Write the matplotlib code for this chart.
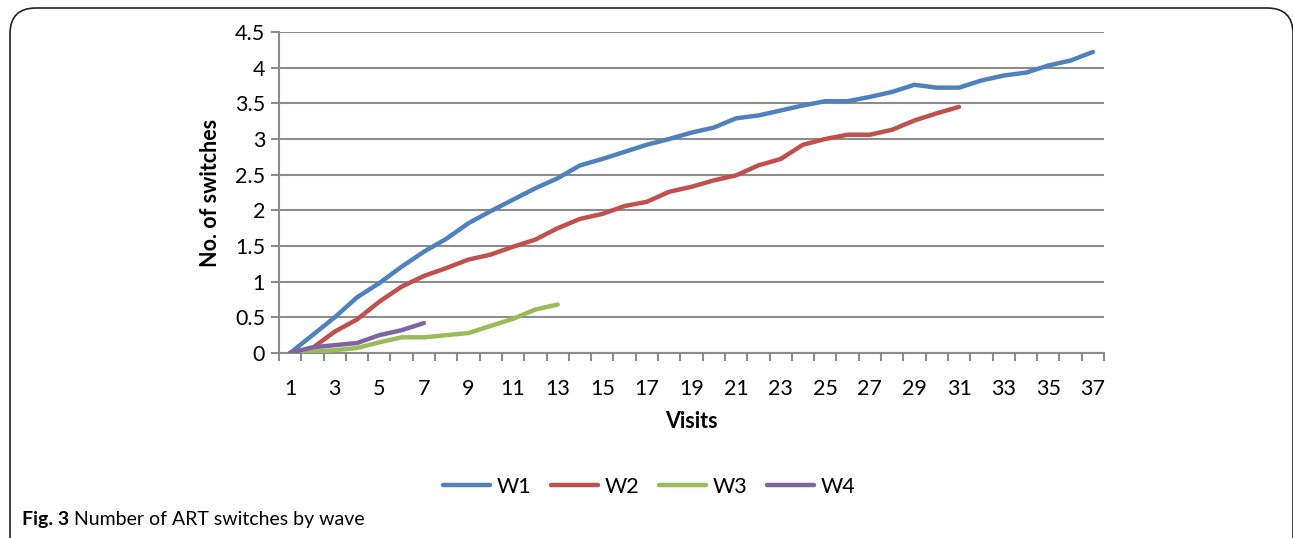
import matplotlib.pyplot as plt
from matplotlib.patches import FancyBboxPatch

plt.rcParams['font.family'] = ['Lato', 'DejaVu Sans']

# switches per visit for each wave
w1 = [0, 0.25, 0.50, 0.78, 0.98, 1.21, 1.42, 1.60, 1.82, 1.99, 2.15, 2.31, 2.45,
      2.63, 2.72, 2.82, 2.92, 3.00, 3.09, 3.16, 3.29, 3.33, 3.40, 3.47, 3.53, 3.53,
      3.59, 3.66, 3.76, 3.72, 3.72, 3.82, 3.89, 3.93, 4.03, 4.10, 4.22]
w2 = [0, 0.07, 0.30, 0.47, 0.72, 0.93, 1.08, 1.19, 1.31, 1.38, 1.49, 1.59, 1.75,
      1.88, 1.95, 2.06, 2.12, 2.26, 2.33, 2.42, 2.49, 2.63, 2.72, 2.92, 3.00, 3.06,
      3.06, 3.13, 3.26, 3.36, 3.45]
w3 = [0, 0.02, 0.04, 0.07, 0.15, 0.22, 0.22, 0.25, 0.28, 0.38, 0.48, 0.61, 0.68]
w4 = [0, 0.08, 0.11, 0.14, 0.25, 0.32, 0.42]

series = [("W1", w1, "#4F81BD"), ("W2", w2, "#C0504D"),
          ("W3", w3, "#9BBB59"), ("W4", w4, "#8064A2")]
n_visits = 37

fig = plt.figure(figsize=(12.93, 5.38), dpi=100)

# rounded frame around the figure, open at the bottom
frame = FancyBboxPatch((10 / 1293, -0.2), 1283 / 1293, 1.2 - 8 / 538,
                       boxstyle="round,pad=0,rounding_size=0.02",
                       transform=fig.transFigure, fill=False,
                       edgecolor="#222222", linewidth=1.2, mutation_aspect=2.4)
fig.patches.append(frame)

ax = fig.add_axes([279 / 1293, 1 - 353 / 538, 825 / 1293, 321 / 538])

for name, vals, col in series:
    x = list(range(1, len(vals) + 1))
    ax.plot(x, vals, color=col, linewidth=3.2, label=name,
            solid_capstyle="round", solid_joinstyle="round", zorder=3)

grey = "#8C8C8C"
ax.set_xlim(0.5, n_visits + 0.5)
ax.set_ylim(0, 4.5)
yt = [i * 0.5 for i in range(10)]
ax.set_yticks(yt)
ax.set_yticklabels(["0", "0.5", "1", "1.5", "2", "2.5", "3", "3.5", "4", "4.5"])
ax.set_xticks(list(range(1, n_visits + 1, 2)))
ax.set_xticks([i + 0.5 for i in range(n_visits + 1)], minor=True)
ax.tick_params(axis="x", which="major", length=0, pad=19, labelsize=15.5)
ax.tick_params(axis="x", which="minor", length=6, width=1.5, color=grey,
               direction="out")
ax.tick_params(axis="y", length=6, width=1.5, color=grey, labelsize=15.5, pad=4)
ax.grid(axis="y", color=grey, linewidth=1.5, zorder=0)
ax.set_axisbelow(True)
for s in ["top", "right"]:
    ax.spines[s].set_visible(False)
for s in ["left", "bottom"]:
    ax.spines[s].set_color(grey)
    ax.spines[s].set_linewidth(1.5)

ax.set_xlabel("Visits", fontsize=15.5, fontweight="bold", labelpad=8)
ax.set_ylabel("No. of switches", fontsize=15.5, fontweight="bold", labelpad=10)

fig.legend(loc="center", bbox_to_anchor=(649 / 1293, 1 - 487 / 538), ncol=4,
           frameon=False, fontsize=15.5, handlelength=2.2, columnspacing=0.9,
           handletextpad=0.3)

# caption: bold figure number followed by the title
cap = fig.text(22 / 1293, 1 - 520 / 538, "Fig. 3", fontsize=14, fontweight="bold",
               va="center", ha="left")
ax.annotate(" Number of ART switches by wave", xy=(1, 0.5), xycoords=cap,
            va="center", ha="left", fontsize=14, annotation_clip=False)

fig.savefig("out.png", dpi=100)
